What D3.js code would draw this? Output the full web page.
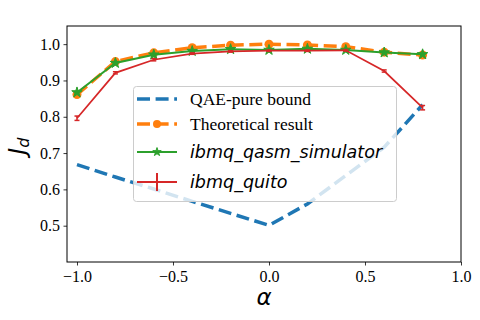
<!DOCTYPE html>
<html>
<head>
<meta charset="utf-8">
<script src="https://cdn.jsdelivr.net/npm/d3@7"></script>
<style>
  body { margin: 0; background: #fff; }
  svg { display: block; }
</style>
</head>
<body>
<svg id="chart" width="480" height="320"></svg>
<script>
// data
let alpha = [-1, -0.8, -0.6, -0.4, -0.2, 0, 0.2, 0.4, 0.6, 0.8];
let qaeBound = [0.668, 0.634, 0.601, 0.567, 0.534, 0.501, 0.560, 0.638, 0.716, 0.833];
let theory = [0.861, 0.952, 0.976, 0.990, 0.997, 1.000, 0.998, 0.993, 0.978, 0.970];
let simulator = [0.867, 0.948, 0.971, 0.981, 0.986, 0.984, 0.987, 0.984, 0.977, 0.972];
let quito = [0.796, 0.921, 0.957, 0.974, 0.980, 0.982, 0.982, 0.983, 0.926, 0.825];
let quitoErr = [0.006, 0.003, 0.003, 0.002, 0.002, 0.002, 0.002, 0.002, 0.003, 0.006];
let xTicks = [-1, -0.5, 0, 0.5, 1];
let yTicks = [0.5, 0.6, 0.7, 0.8, 0.9, 1.0];
let legendLabels = ["QAE-pure bound", "Theoretical result", "ibmq_qasm_simulator", "ibmq_quito"];

let svg = d3.select("svg#chart"),
	mLeft = 67, mRight = 461, mTop = 26, mBottom = 262;

let x = d3.scaleLinear().domain([-1.052, 1]).range([mLeft, mRight]);
let y = d3.scaleLinear().domain([0.4, 1.05]).range([mBottom, mTop]);

let fmt = function(d) { return d3.format(".1f")(d).replace("-", "\u2212"); };

// axes
svg.append("g")
	.attr("transform", "translate(0," + mBottom + ")")
	.call(d3.axisBottom(x).tickValues(xTicks).tickFormat(fmt).tickSize(3.5).tickPadding(5));
svg.append("g")
	.attr("transform", "translate(" + mLeft + ",0)")
	.call(d3.axisLeft(y).tickValues(yTicks).tickFormat(fmt).tickSize(3.5).tickPadding(3.5));
svg.selectAll(".domain").remove();
svg.selectAll(".tick line").attr("stroke", "#000").attr("stroke-width", 0.8);
svg.selectAll(".tick text")
	.attr("fill", "#000")
	.attr("font-family", "'Liberation Serif', serif")
	.attr("font-size", 16);

let line = function(vals) {
	return d3.line().x(function(d, i) { return x(alpha[i]); }).y(function(d) { return y(d); })(vals);
};

let blue = "#1f77b4", orange = "#ff7f0e", green = "#2ca02c", red = "#d62728";

let plot = svg.append("g");

// QAE-pure bound
plot.append("path").attr("d", line(qaeBound))
	.attr("fill", "none").attr("stroke", blue).attr("stroke-width", 3.5)
	.attr("stroke-dasharray", "13,5.6");

// theoretical result
plot.append("path").attr("d", line(theory))
	.attr("fill", "none").attr("stroke", orange).attr("stroke-width", 3.5)
	.attr("stroke-dasharray", "13,5.6");
plot.selectAll("circle.th").data(theory).enter().append("circle")
	.attr("class", "th")
	.attr("cx", function(d, i) { return x(alpha[i]); })
	.attr("cy", function(d) { return y(d); })
	.attr("r", 4.5).attr("fill", orange);

// simulator
let star = d3.symbol().type(d3.symbolStar).size(34);
plot.append("path").attr("d", line(simulator))
	.attr("fill", "none").attr("stroke", green).attr("stroke-width", 2);
plot.selectAll("path.sim").data(simulator).enter().append("path")
	.attr("class", "sim")
	.attr("d", star)
	.attr("transform", function(d, i) { return "translate(" + x(alpha[i]) + "," + y(d) + ")"; })
	.attr("fill", green).attr("stroke", green).attr("stroke-width", 1);

// quito with error bars
plot.append("path").attr("d", line(quito))
	.attr("fill", "none").attr("stroke", red).attr("stroke-width", 1.7);
let eb = plot.selectAll("g.eb").data(quito).enter().append("g").attr("class", "eb");
eb.append("line")
	.attr("x1", function(d, i) { return x(alpha[i]); })
	.attr("x2", function(d, i) { return x(alpha[i]); })
	.attr("y1", function(d, i) { return y(d - quitoErr[i]); })
	.attr("y2", function(d, i) { return y(d + quitoErr[i]); })
	.attr("stroke", red).attr("stroke-width", 1.5);
[-1, 1].forEach(function(s) {
	eb.append("line")
		.attr("x1", function(d, i) { return x(alpha[i]) - 2.5; })
		.attr("x2", function(d, i) { return x(alpha[i]) + 2.5; })
		.attr("y1", function(d, i) { return y(d + s * quitoErr[i]); })
		.attr("y2", function(d, i) { return y(d + s * quitoErr[i]); })
		.attr("stroke", red).attr("stroke-width", 1.5);
});

// frame
svg.append("rect")
	.attr("x", mLeft).attr("y", mTop).attr("width", mRight - mLeft).attr("height", mBottom - mTop)
	.attr("fill", "none").attr("stroke", "#000").attr("stroke-width", 1);

// legend
let lg = svg.append("g");
lg.append("rect")
	.attr("x", 133.5).attr("y", 86.5).attr("width", 263).attr("height", 115).attr("rx", 3)
	.attr("fill", "#fff").attr("fill-opacity", 0.8).attr("stroke", "#ccc").attr("stroke-width", 1);

let rowY = [99, 124, 152, 182];
let hx0 = 137, hx1 = 177, hxm = 157;
let starSmall = d3.symbol().type(d3.symbolStar).size(22);
lg.append("line").attr("x1", hx0).attr("x2", hx1).attr("y1", rowY[0]).attr("y2", rowY[0])
	.attr("stroke", blue).attr("stroke-width", 3.5).attr("stroke-dasharray", "13,5.6");
lg.append("line").attr("x1", hx0).attr("x2", hx1).attr("y1", rowY[1]).attr("y2", rowY[1])
	.attr("stroke", orange).attr("stroke-width", 3.5).attr("stroke-dasharray", "13,5.6");
lg.append("circle").attr("cx", hxm).attr("cy", rowY[1]).attr("r", 4).attr("fill", orange);
lg.append("line").attr("x1", hx0).attr("x2", hx1).attr("y1", rowY[2]).attr("y2", rowY[2])
	.attr("stroke", green).attr("stroke-width", 2);
lg.append("path").attr("d", starSmall).attr("transform", "translate(" + hxm + "," + rowY[2] + ")")
	.attr("fill", green).attr("stroke", green);
lg.append("line").attr("x1", hx0).attr("x2", hx1).attr("y1", rowY[3]).attr("y2", rowY[3])
	.attr("stroke", red).attr("stroke-width", 2);
lg.append("line").attr("x1", hxm).attr("x2", hxm).attr("y1", rowY[3] - 9).attr("y2", rowY[3] + 9)
	.attr("stroke", red).attr("stroke-width", 2);

lg.selectAll("text").data(legendLabels).enter().append("text")
	.attr("x", 190)
	.attr("y", function(d, i) { return rowY[i]; })
	.attr("dy", "0.35em")
	.style("font-family", function(d, i) { return i < 2 ? "'Liberation Serif', serif" : "'DejaVu Sans', sans-serif"; })
	.style("font-style", function(d, i) { return i < 2 ? "normal" : "italic"; })
	.style("font-size", "17.5px")
	.text(function(d) { return d; });

// axis labels
let yl = svg.append("text")
	.attr("transform", "translate(25," + 146 + ") rotate(-90)")
	.attr("text-anchor", "middle")
	.style("font-family", "'DejaVu Sans', sans-serif")
	.style("font-style", "italic")
	.style("font-size", "23px");
yl.append("tspan").text("J");
yl.append("tspan").attr("dy", 4).style("font-size", "16px").text("d");

svg.append("text")
	.attr("x", (mLeft + mRight) / 2).attr("y", 305)
	.attr("text-anchor", "middle")
	.style("font-family", "'DejaVu Sans', sans-serif")
	.style("font-style", "italic")
	.style("font-size", "23px")
	.text("\u03b1");
</script>
</body>
</html>
